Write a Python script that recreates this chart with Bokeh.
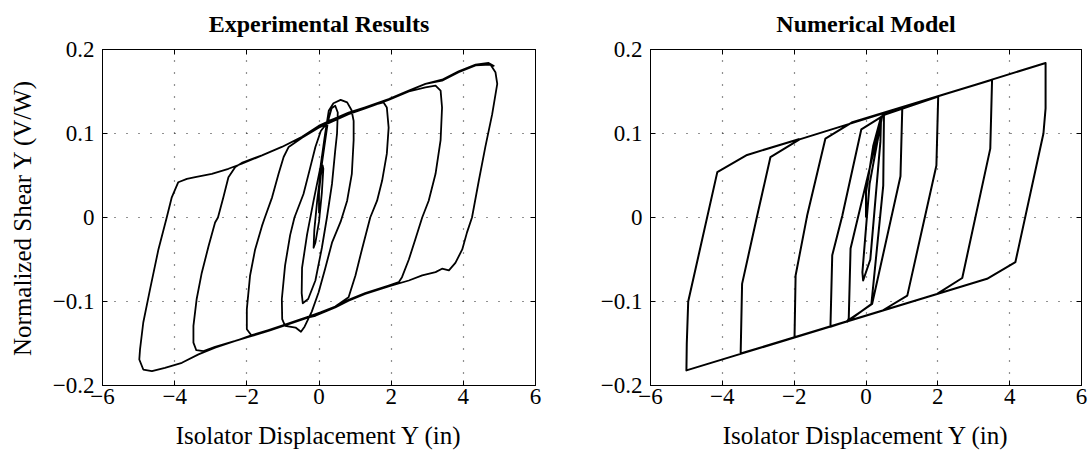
from bokeh.plotting import figure
from bokeh.layouts import row
from bokeh.models import Range1d, FixedTicker, LinearAxis
from bokeh.embed import file_html
from bokeh.resources import INLINE

# ---------------- data ----------------
x_ticks = [-6, -4, -2, 0, 2, 4, 6]
x_tick_labels = ["\u22126", "\u22124", "\u22122", "0", "2", "4", "6"]
y_ticks = [-0.2, -0.1, 0, 0.1, 0.2]
y_tick_labels = ["\u22120.2", "\u22120.1", "0", "0.1", "0.2"]

titles = ["Experimental Results", "Numerical Model"]
x_label = "Isolator Displacement Y (in)"
y_label = "Normalized Shear Y (V/W)"

# Experimental hysteresis trace (displacement in, normalized shear V/W)
exp_disp = [
    0.0, 0.0, 0.05, 0.1, 0.12, 0.08, 0.0, -0.1, -0.15, -0.13, -0.05, 0.05, 0.15, 0.25,
    0.35, 0.45, 0.52, 0.5, 0.45, 0.36, 0.22, 0.08, -0.1, -0.3, -0.45, -0.48, -0.47, -0.33,
    -0.15, 0.04, 0.17, 0.27, 0.4, 0.6, 0.78,
    0.9, 0.96, 0.96, 0.91, 0.78, 0.6, 0.36, 0.17, -0.01, -0.2, -0.4, -0.5, -0.65, -0.94,
    -1.02, -1.03, -0.94, -0.8, -0.68, -0.43, -0.24, -0.1, 0.05, 0.27,
    0.82, 1.28, 1.6, 1.79,
    1.88, 1.93, 1.88, 1.75, 1.61, 1.42, 1.19, 1.01, 0.82, 0.45, 0.04, -0.29, -0.84, -1.4, -1.86,
    -2.0, -2.0, -1.91, -1.77, -1.58, -1.5, -1.3, -1.12, -0.98, -0.84,
    -0.47, -0.01, 0.45, 0.82, 1.28, 1.93, 2.49, 2.95, 3.23,
    3.37, 3.41, 3.37, 3.23, 3.04, 2.86, 2.67, 2.49, 2.3, 2.21, 1.93, 1.28, 0.82, 0.45, -0.1,
    -0.84, -1.4, -1.86, -2.32, -2.88, -3.2, -3.4,
    -3.48, -3.48, -3.39, -3.25, -3.06, -2.88, -2.8, -2.65, -2.51, -2.32, -2.14,
    -1.58, -1.03, -0.47, -0.01, 0.45, 0.82, 1.28, 1.93, 2.49, 2.95, 3.41, 3.87, 4.34, 4.75,
    4.89, 4.94, 4.8, 4.61, 4.43, 4.24, 4.1, 3.97, 3.78, 3.6,
    3.41, 3.23, 2.86, 2.49, 1.93, 1.28, 0.82, 0.45, -0.1, -0.29, -0.84, -1.4, -1.86, -2.32,
    -2.88, -3.34, -3.8, -4.27, -4.63, -4.87,
    -4.98, -4.96, -4.87, -4.68, -4.45, -4.22, -4.08, -3.9, -3.66,
    -3.43, -2.97, -2.51, -2.14, -1.58, -1.03, -0.47, -0.01, 0.27, 0.82, 1.28, 1.93, 2.49,
    2.95, 3.41, 3.87, 4.34, 4.7, 4.86,
]
exp_shear = [
    0.005, 0.03, 0.05, 0.062, 0.058, 0.03, -0.005, -0.03, -0.036, -0.015, 0.02, 0.055, 0.085, 0.115,
    0.13, 0.133, 0.125, 0.1, 0.08, 0.04, 0.0, -0.036, -0.075, -0.097, -0.102, -0.09, -0.06, -0.02,
    0.02, 0.06, 0.1, 0.127, 0.136, 0.14, 0.137,
    0.128, 0.115, 0.092, 0.052, 0.02, -0.005, -0.03, -0.061, -0.089, -0.112, -0.13, -0.136, -0.131, -0.129,
    -0.121, -0.097, -0.057, -0.021, 0.0, 0.028, 0.06, 0.084, 0.103, 0.115,
    0.124, 0.131, 0.135, 0.137,
    0.131, 0.107, 0.076, 0.044, 0.02, 0.0, -0.038, -0.069, -0.095, -0.106, -0.113, -0.118, -0.126, -0.134, -0.141,
    -0.133, -0.109, -0.069, -0.038, -0.01, 0.0, 0.024, 0.052, 0.072, 0.084,
    0.095, 0.107, 0.116, 0.123, 0.13, 0.14, 0.15, 0.155, 0.157,
    0.151, 0.131, 0.092, 0.052, 0.02, 0.0, -0.026, -0.05, -0.071, -0.077, -0.081, -0.09, -0.098, -0.106, -0.116,
    -0.127, -0.134, -0.14, -0.147, -0.154, -0.159, -0.158,
    -0.149, -0.129, -0.097, -0.066, -0.034, -0.006, 0.0, 0.024, 0.048, 0.06, 0.065,
    0.074, 0.084, 0.096, 0.109, 0.118, 0.125, 0.131, 0.141, 0.151, 0.159, 0.163, 0.173, 0.181, 0.182,
    0.173, 0.159, 0.123, 0.084, 0.044, 0.0, -0.018, -0.038, -0.054, -0.063,
    -0.061, -0.065, -0.069, -0.075, -0.082, -0.091, -0.099, -0.107, -0.117, -0.119, -0.127, -0.135, -0.141, -0.147,
    -0.155, -0.163, -0.173, -0.179, -0.183, -0.181,
    -0.169, -0.157, -0.125, -0.085, -0.038, 0.0, 0.024, 0.042, 0.046,
    0.048, 0.052, 0.058, 0.064, 0.074, 0.084, 0.096, 0.109, 0.113, 0.125, 0.131, 0.141, 0.151,
    0.159, 0.164, 0.174, 0.182, 0.184, 0.18,
]

# Numerical model trace
num_disp = [
    0.0, 0.0, 0.2, 0.42, 0.4, 0.12, -0.08, -0.1, 0.1, 0.45,
    0.5, 0.48, 0.15, -0.52, -0.48, -0.43, 0.45,
    0.55, 1.01, 0.96, 0.17, -0.55, -0.99, -0.94, -0.66, -0.13, 0.55,
    2.01, 1.96, 1.15, 0.45, -1.99, -1.96, -1.64, -1.13, -0.4,
    3.51, 3.46, 2.68, 1.98, -3.49, -3.45, -3.03, -2.66, -1.85,
    5.0, 5.0, 4.94, 4.16, 3.37, -5.0, -4.99, -4.95, -4.14, -3.31, -1.85,
]
num_shear = [
    0.0, 0.03, 0.085, 0.12, 0.09, -0.05, -0.075, -0.065, 0.04, 0.121,
    0.123, 0.038, -0.103, -0.124, -0.12, -0.037, 0.121,
    0.123, 0.1305, 0.049, -0.103, -0.124, -0.13, -0.045, 0.002, 0.105, 0.123,
    0.144, 0.062, -0.093, -0.111, -0.1425, -0.069, 0.002, 0.094, 0.113,
    0.164, 0.082, -0.072, -0.091, -0.162, -0.079, 0.002, 0.072, 0.093,
    0.184, 0.13, 0.1, -0.053, -0.073, -0.182, -0.15, -0.1, 0.054, 0.0745, 0.0935,
]

FONT = "Liberation Serif"


def style_axis(ax, ticks, labels, font_size):
    ax.ticker = FixedTicker(ticks=ticks)
    ax.major_label_overrides = dict(zip(ticks, labels))
    ax.major_tick_in = 5
    ax.major_tick_out = 0
    ax.minor_tick_line_color = None
    ax.major_tick_line_color = "black"
    ax.axis_line_color = "black"
    ax.major_label_text_font = FONT
    ax.major_label_text_font_size = font_size
    ax.major_label_text_color = "black"


def blank_axis(ticks):
    ax = LinearAxis(ticker=FixedTicker(ticks=ticks))
    ax.major_tick_in = 5
    ax.major_tick_out = 0
    ax.minor_tick_line_color = None
    ax.major_label_text_font_size = "1px"
    ax.major_label_text_color = None
    ax.major_label_standoff = 0
    ax.axis_line_color = "black"
    ax.major_tick_line_color = "black"
    return ax


def make_fig(title, xs, ys, with_ylabel, border_left, frame_w, lw):
    p = figure(frame_width=frame_w, frame_height=336,
               x_range=Range1d(-6, 6), y_range=Range1d(-0.2, 0.2),
               output_backend="svg", toolbar_location=None,
               min_border_left=border_left, min_border_right=11,
               min_border_top=49, min_border_bottom=68)
    p.background_fill_color = "white"
    p.border_fill_color = "white"
    p.outline_line_color = "black"

    style_axis(p.xaxis[0], x_ticks, x_tick_labels, "23px")
    style_axis(p.yaxis[0], y_ticks, y_tick_labels, "23px")
    p.xaxis.major_label_standoff = 3
    p.yaxis.major_label_standoff = 8
    p.xaxis.axis_label = x_label
    p.xaxis.axis_label_text_font = FONT
    p.xaxis.axis_label_text_font_size = "25px"
    p.xaxis.axis_label_text_font_style = "normal"
    p.xaxis.axis_label_text_color = "black"
    p.xaxis.axis_label_standoff = 15
    if with_ylabel:
        p.yaxis.axis_label = y_label
        p.yaxis.axis_label_text_font = FONT
        p.yaxis.axis_label_text_font_size = "25px"
        p.yaxis.axis_label_text_font_style = "normal"
        p.yaxis.axis_label_text_color = "black"
        p.yaxis.axis_label_standoff = 14

    # top axis: inward ticks, carries the panel title
    top = blank_axis(x_ticks)
    top.axis_label = title
    top.axis_label_text_font = FONT
    top.axis_label_text_font_size = "24px"
    top.axis_label_text_font_style = "bold"
    top.axis_label_text_color = "black"
    top.axis_label_standoff = 13
    p.add_layout(top, "above")
    p.add_layout(blank_axis(y_ticks), "right")

    p.grid.grid_line_color = "#222222"
    p.grid.grid_line_dash = "1 11"
    p.grid.grid_line_width = 1.2

    p.line(xs, ys, line_color="black", line_width=lw, line_join="round")
    return p


p1 = make_fig(titles[0], exp_disp, exp_shear, True, 102, 433, 1.8)
p2 = make_fig(titles[1], num_disp, num_shear, False, 104, 431, 2.0)
layout = row(p1, p2)

open("out.html", "w").write(file_html(layout, INLINE))
